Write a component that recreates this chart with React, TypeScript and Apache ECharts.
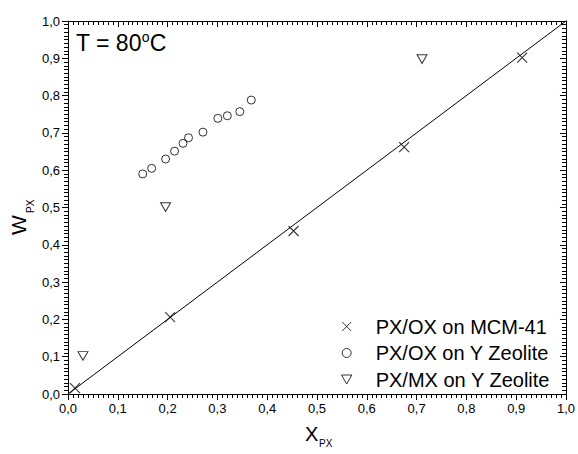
import React, { useEffect, useRef } from "react";
import * as echarts from "echarts";

// ---- data ----
const mcmX = [0.014, 0.205, 0.453, 0.675, 0.912];
const mcmY = [0.016, 0.206, 0.437, 0.662, 0.902];

const yzX = [0.15, 0.168, 0.196, 0.214, 0.231, 0.242, 0.271, 0.301, 0.32, 0.345, 0.368];
const yzY = [0.59, 0.605, 0.63, 0.651, 0.672, 0.687, 0.702, 0.739, 0.746, 0.757, 0.788];

const mxX = [0.03, 0.196, 0.711];
const mxY = [0.102, 0.501, 0.898];

const fitX = [0, 1];
const fitY = [0, 1];

const seriesNames = ["PX/OX on MCM-41", "PX/OX on Y Zeolite", "PX/MX on Y Zeolite"];

const majorStep = 0.1;
const minorSplit = 10;

const zip = (xs: number[], ys: number[]) => xs.map((x, i) => [x, ys[i]]);

const CROSS = "path://M0,0L10,10M10,0L0,10";
const CIRCLE = "path://M5,0A5,5,0,1,1,5,10A5,5,0,1,1,5,0Z";
const TRI_DOWN = "path://M0,0L10,0L5,8.7Z";

const FONT = "'Liberation Sans', Arial, Helvetica, sans-serif";
const fmt = (v: number) => v.toFixed(1).replace(".", ",");

export default function App() {
  const ref = useRef<HTMLDivElement>(null);

  useEffect(() => {
    if (!ref.current) return;
    const chart = echarts.init(ref.current, null, { renderer: "svg" });

    const axis = (position: string, inside: boolean, labels: boolean) => ({
      type: "value" as const,
      min: 0,
      max: 1,
      interval: majorStep,
      position,
      splitLine: { show: false },
      axisLine: { show: true, onZero: false, lineStyle: { color: "#000", width: 1 } },
      axisTick: { show: true, inside, length: 6 },
      minorTick: { show: true, splitNumber: minorSplit, length: 4, lineStyle: { width: 1 } },
      axisLabel: labels
        ? { show: true, margin: 8, color: "#000", fontSize: 13, fontFamily: FONT, formatter: fmt }
        : { show: false },
    });

    chart.setOption({
      animation: false,
      grid: { left: 68, right: 11, top: 21, bottom: 60 },
      xAxis: [axis("bottom", false, true), axis("top", true, false)],
      yAxis: [axis("left", false, true), axis("right", true, false)],
      legend: {
        orient: "vertical",
        left: 341,
        top: 316,
        padding: 0,
        itemGap: 5.5,
        itemWidth: 48,
        itemHeight: 9,
        symbolKeepAspect: true,
        textStyle: { color: "#000", fontSize: 20, lineHeight: 21, fontFamily: FONT },
        data: [
          { name: seriesNames[0], icon: CROSS, itemStyle: { color: "#000", borderColor: "#000", borderWidth: 1 } },
          { name: seriesNames[1], icon: CIRCLE, itemStyle: { color: "rgba(0,0,0,0)", borderColor: "#000", borderWidth: 1 } },
          { name: seriesNames[2], icon: TRI_DOWN, itemStyle: { color: "rgba(0,0,0,0)", borderColor: "#000", borderWidth: 1 } },
        ],
      },
      series: [
        {
          name: "fit",
          type: "line",
          data: zip(fitX, fitY),
          symbol: "none",
          silent: true,
          lineStyle: { color: "#000", width: 1 },
          z: 1,
        },
        {
          name: seriesNames[0],
          type: "scatter",
          data: zip(mcmX, mcmY),
          symbol: CROSS,
          symbolSize: 10,
          itemStyle: { color: "#000", borderColor: "#000", borderWidth: 1.1 },
          z: 3,
        },
        {
          name: seriesNames[1],
          type: "scatter",
          data: zip(yzX, yzY),
          symbol: CIRCLE,
          symbolSize: 8,
          itemStyle: { color: "rgba(0,0,0,0)", borderColor: "#000", borderWidth: 1 },
          z: 3,
        },
        {
          name: seriesNames[2],
          type: "scatter",
          data: zip(mxX, mxY),
          symbol: TRI_DOWN,
          symbolSize: [10, 8.7],
          itemStyle: { color: "rgba(0,0,0,0)", borderColor: "#000", borderWidth: 1 },
          z: 3,
        },
      ],
      graphic: [
        {
          type: "text",
          left: 76,
          top: 30,
          style: {
            text: "{a|T = 80}{s|o}{a|C}",
            fill: "#000",
            rich: {
              a: { fontSize: 23, lineHeight: 25, fontFamily: FONT, fill: "#000" },
              s: { fontSize: 14, lineHeight: 14, verticalAlign: "top", fontFamily: FONT, fill: "#000" },
            },
          },
        },
        {
          type: "text",
          x: 305,
          y: 434,
          style: { text: "X", fontSize: 20, fontFamily: FONT, fill: "#000", align: "left", verticalAlign: "middle" },
        },
        {
          type: "text",
          x: 319,
          y: 443.5,
          style: { text: "PX", fontSize: 10, fontFamily: FONT, fill: "#000", align: "left", verticalAlign: "middle" },
        },
        {
          type: "group",
          x: 18.5,
          y: 225,
          rotation: Math.PI / 2,
          children: [
            {
              type: "text",
              x: 0,
              y: 0,
              style: { text: "W", fontSize: 21, fontFamily: FONT, fill: "#000", align: "center", verticalAlign: "middle" },
            },
            {
              type: "text",
              x: 12,
              y: 12,
              style: { text: "PX", fontSize: 10, fontFamily: FONT, fill: "#000", align: "left", verticalAlign: "middle" },
            },
          ],
        },
      ],
    });

    return () => chart.dispose();
  }, []);

  return (
    <div
      ref={ref}
      style={{ position: "fixed", left: 0, top: 0, width: 578, height: 454, background: "#fff" }}
    />
  );
}
